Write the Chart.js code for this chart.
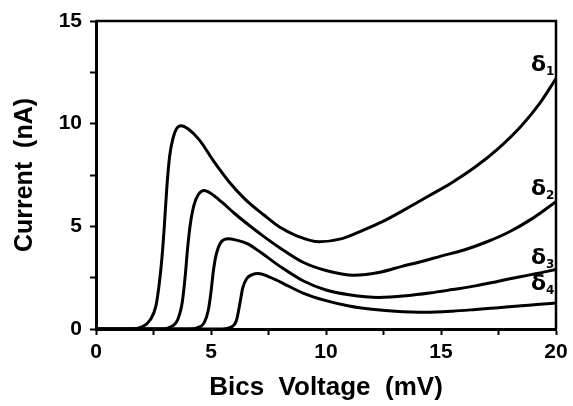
<!DOCTYPE html>
<html>
<head>
<meta charset="utf-8">
<script src="https://cdn.jsdelivr.net/npm/chart.js@4"></script>
<style>
  body { margin: 0; background: #fff; }
  canvas { display: block; }
</style>
</head>
<body>
<canvas id="myChart" width="573" height="406"></canvas>
<script>
// values (bias voltage in mV, current in nA)
const d1X = [0, 1.5, 2.0, 2.36, 2.6, 2.75, 2.87, 2.97, 3.08, 3.2, 3.35, 3.5, 3.7, 4.0, 4.5, 5.1, 5.8, 6.5, 7.3, 8.0, 8.7, 9.7, 10.7, 11.6, 12.5, 13.4, 14.5, 15.5, 16.5, 17.5, 18.5, 19.3, 20];
const d1Y = [0, 0, 0.1, 0.45, 1.1, 2.2, 3.5, 5.0, 6.9, 8.4, 9.3, 9.75, 9.9, 9.75, 9.2, 8.2, 7.15, 6.3, 5.55, 4.95, 4.55, 4.25, 4.4, 4.8, 5.25, 5.8, 6.5, 7.15, 7.9, 8.8, 9.9, 11.0, 12.2];

const d2X = [0, 2.8, 3.2, 3.55, 3.75, 3.88, 3.98, 4.1, 4.25, 4.45, 4.7, 5.0, 5.5, 6.0, 6.6, 7.3, 8.0, 9.0, 10.0, 11.2, 12.4, 13.3, 14.2, 15.0, 16.0, 17.0, 18.0, 19.0, 20];
const d2Y = [0, 0, 0.08, 0.45, 1.3, 2.6, 3.9, 5.1, 6.0, 6.55, 6.75, 6.6, 6.15, 5.65, 5.1, 4.5, 3.95, 3.25, 2.85, 2.62, 2.78, 3.05, 3.3, 3.55, 3.85, 4.25, 4.75, 5.4, 6.2];

const d3X = [0, 4.0, 4.4, 4.7, 4.88, 5.0, 5.1, 5.22, 5.45, 5.75, 6.1, 6.6, 7.2, 8.0, 9.0, 10.0, 11.0, 12.3, 13.5, 14.5, 15.5, 16.5, 17.5, 18.5, 19.3, 20];
const d3Y = [0, 0, 0.06, 0.3, 0.9, 1.8, 2.8, 3.6, 4.25, 4.4, 4.33, 4.15, 3.7, 3.05, 2.35, 1.9, 1.67, 1.54, 1.62, 1.75, 1.92, 2.1, 2.33, 2.56, 2.73, 2.9];

const d4X = [0, 5.5, 5.85, 6.1, 6.25, 6.38, 6.55, 6.8, 7.05, 7.5, 8.0, 9.0, 10.0, 11.0, 12.0, 13.0, 14.3, 15.5, 16.5, 17.5, 18.5, 19.3, 20];
const d4Y = [0, 0, 0.08, 0.4, 1.2, 2.0, 2.45, 2.65, 2.7, 2.55, 2.3, 1.75, 1.38, 1.12, 0.96, 0.87, 0.82, 0.87, 0.95, 1.04, 1.13, 1.2, 1.27];

const seriesNames = ['δ1', 'δ2', 'δ3', 'δ4'];
const xTicks = [0, 5, 10, 15, 20];
const yTicks = [0, 5, 10, 15];

const allX = [d1X, d2X, d3X, d4X];
const allY = [d1Y, d2Y, d3Y, d4Y];

const fontFam = '"Liberation Sans", Arial, sans-serif';

// box round the plot plus the delta labels at the right end of each curve
const framePlugin = {
  id: 'frame',
  afterDatasetsDraw(chart) {
    const { ctx, chartArea: a, scales } = chart;
    ctx.save();
    ctx.strokeStyle = '#000';
    ctx.lineWidth = 2.5;
    ctx.beginPath();
    ctx.moveTo(a.left, a.top);
    ctx.lineTo(a.right, a.top);
    ctx.lineTo(a.right, a.bottom);
    ctx.stroke();

    const lift = [7, 7, 5, 13];
    ctx.fillStyle = '#000';
    chart.data.datasets.forEach((ds, i) => {
      const last = ds.data[ds.data.length - 1];
      const px = scales.x.getPixelForValue(last.x);
      const py = scales.y.getPixelForValue(last.y);
      ctx.textAlign = 'right';
      ctx.textBaseline = 'alphabetic';
      ctx.font = 'bold 22px "DejaVu Sans", sans-serif';
      ctx.fillText('δ', px - 10, py - lift[i]);
      ctx.textAlign = 'left';
      ctx.font = 'bold 12px "DejaVu Sans", sans-serif';
      ctx.fillText(seriesNames[i].slice(1), px - 10, py - lift[i] + 4);
    });
    ctx.restore();
  }
};

const ctx = document.getElementById('myChart');
new Chart(ctx, {
  type: 'line',
  data: {
    datasets: allX.map((xs, i) => ({
      label: seriesNames[i],
      data: xs.map((x, j) => ({ x: x, y: allY[i][j] })),
      borderColor: '#000',
      borderWidth: 3,
      pointRadius: 0,
      fill: false,
      cubicInterpolationMode: 'monotone'
    }))
  },
  options: {
    responsive: false,
    animation: false,
    layout: { padding: { left: 4, top: 21, right: 17, bottom: 0 } },
    plugins: {
      legend: { display: false },
      tooltip: { enabled: false }
    },
    scales: {
      x: {
        type: 'linear',
        min: 0,
        max: 20,
        afterFit: s => { s.height = 77; },
        ticks: {
          stepSize: 2.5,
          autoSkip: false,
          maxRotation: 0,
          padding: 5,
          color: '#000',
          font: { family: fontFam, size: 21, weight: 'bold' },
          callback: v => xTicks.includes(v) ? String(v) : ''
        },
        grid: { drawOnChartArea: false, tickLength: 6, tickColor: '#000', tickWidth: 2 },
        border: { color: '#000', width: 3 },
        title: {
          display: true,
          text: 'Bics  Voltage  (mV)',
          color: '#000',
          font: { family: fontFam, size: 26, weight: 'bold' },
          padding: { top: 0, bottom: 3 }
        }
      },
      y: {
        min: 0,
        max: 15,
        afterFit: s => { s.width = 92; },
        ticks: {
          stepSize: 2.5,
          autoSkip: false,
          padding: 8,
          color: '#000',
          font: { family: fontFam, size: 21, weight: 'bold' },
          callback: v => yTicks.includes(v) ? String(v) : ''
        },
        grid: { drawOnChartArea: false, tickLength: 6, tickColor: '#000', tickWidth: 2 },
        border: { color: '#000', width: 3 },
        title: {
          display: true,
          text: 'Current  (nA)',
          color: '#000',
          font: { family: fontFam, size: 25, weight: 'bold' },
          padding: { top: 6, bottom: 0 }
        }
      }
    }
  },
  plugins: [framePlugin]
});
</script>
</body>
</html>
